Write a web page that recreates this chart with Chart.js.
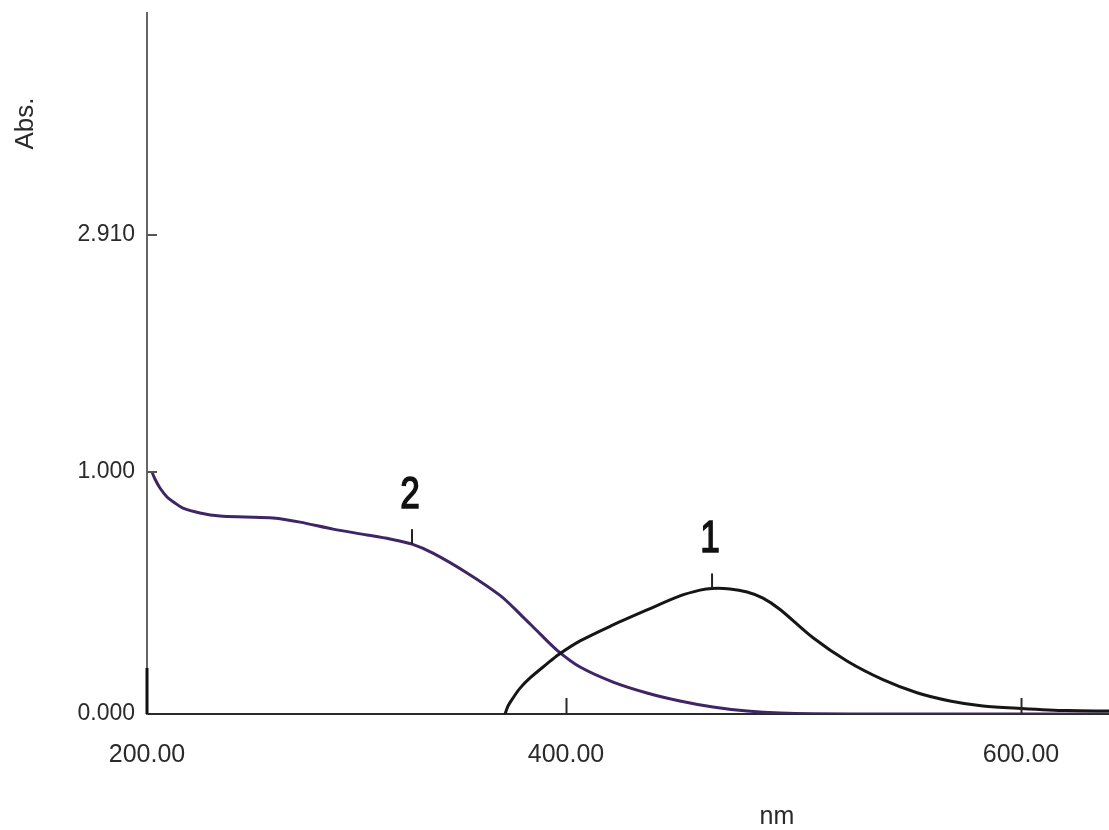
<!DOCTYPE html>
<html>
<head>
<meta charset="utf-8">
<title>Abs. spectrum</title>
<script src="https://cdn.jsdelivr.net/npm/chart.js@4.4.1/dist/chart.umd.min.js"></script>
<style>
  html, body { margin: 0; padding: 0; background: #fff; }
  canvas { display: block; }
</style>
</head>
<body>
<canvas id="spectrum" width="1109" height="830"></canvas>
<script>
// Curve 1 (black), wavelength in nm and absorbance
const curve1Nm  = [373.2, 374.5, 376.7, 379.8, 384.2, 391.6, 396.5, 406.2, 420.7, 435.6, 450.1, 458.9, 464.2, 472.1, 479.6, 486.6, 494.1, 508.6, 523.5, 539.3, 554.3, 568.8, 583.3, 600.0, 620.2, 638.7];
const curve1Abs = [0.000, 0.033, 0.066, 0.107, 0.149, 0.207, 0.244, 0.302, 0.368, 0.430, 0.488, 0.512, 0.519, 0.517, 0.504, 0.479, 0.432, 0.315, 0.219, 0.142, 0.088, 0.054, 0.033, 0.023, 0.014, 0.012];

// Curve 2 (purple)
const curve2Nm  = [218.0, 219.3, 221.5, 224.6, 228.1, 231.6, 239.1, 247.9, 258.9, 271.2, 283.1, 297.6, 312.5, 322.6, 332.3, 341.5, 356.5, 371.0, 379.8, 388.6, 396.5, 406.2, 420.7, 435.6, 450.1, 464.6, 479.6, 494.1, 524.8, 638.7];
const curve2Abs = [1.000, 0.971, 0.934, 0.897, 0.872, 0.851, 0.831, 0.818, 0.814, 0.810, 0.793, 0.764, 0.740, 0.723, 0.702, 0.665, 0.583, 0.490, 0.413, 0.331, 0.260, 0.194, 0.132, 0.087, 0.054, 0.029, 0.012, 0.004, 0.000, 0.000];

// Axis ticks (the printout's labels are not evenly spaced)
const xTickValues = [215.8, 400, 600];
const xTickLabels = ["200.00", "400.00", "600.00"];
const yTickValues = [0, 1, 1.98];
const yTickLabels = ["0.000", "1.000", "2.910"];

// Peak markers: label, which curve, wavelength
const markerLabels = ["2", "1"];
const markerCurves = [2, 1];
const markerNm = [332.3, 464.2];

const X_MIN = 215.8, X_MAX = 638.7;
const Y_MIN = 0, Y_MAX = 2.897;

const FONT = "'Liberation Sans', Arial, sans-serif";
const PURPLE = "#3f2566";
const BLACK = "#161616";
const TEXT = "#2a2a2a";

function zip(xs, ys) {
  return xs.map((x, i) => ({ x: x, y: ys[i] }));
}

// Draws the inward ticks, the peak markers and the axis names.
const spectrumDecor = {
  id: 'spectrumDecor',
  afterDatasetsDraw: function (chart) {
    const ctx = chart.ctx;
    const xs = chart.scales.x;
    const ys = chart.scales.y;
    const area = chart.chartArea;
    ctx.save();

    // inward x ticks
    ctx.strokeStyle = "#2a2a2a";
    ctx.lineWidth = 2;
    xTickValues.slice(1).forEach(v => {
      const px = Math.round(xs.getPixelForValue(v)) + 0.5;
      ctx.beginPath();
      ctx.moveTo(px, area.bottom + 1);
      ctx.lineTo(px, area.bottom - 16);
      ctx.stroke();
    });

    // inward y ticks
    ctx.strokeStyle = "#555";
    yTickValues.slice(1).forEach(v => {
      const py = Math.round(ys.getPixelForValue(v));
      ctx.beginPath();
      ctx.moveTo(area.left, py);
      ctx.lineTo(area.left + 10, py);
      ctx.stroke();
    });

    // darker stub at the bottom of the y axis
    ctx.strokeStyle = "#111";
    ctx.lineWidth = 3;
    ctx.beginPath();
    ctx.moveTo(area.left, area.bottom);
    ctx.lineTo(area.left, ys.getPixelForValue(0.19));
    ctx.stroke();

    // peak markers
    markerLabels.forEach((label, i) => {
      const nmArr = markerCurves[i] === 1 ? curve1Nm : curve2Nm;
      const absArr = markerCurves[i] === 1 ? curve1Abs : curve2Abs;
      const idx = nmArr.indexOf(markerNm[i]);
      const px = xs.getPixelForValue(markerNm[i]);
      const py = ys.getPixelForValue(absArr[idx]);
      ctx.strokeStyle = "#222";
      ctx.lineWidth = 2;
      ctx.beginPath();
      ctx.moveTo(px, py);
      ctx.lineTo(px, py - 15);
      ctx.stroke();
      // the printout's digits are tall, narrow and heavy
      ctx.save();
      ctx.translate(px - 2, py - 36);
      ctx.scale(0.8, 1);
      ctx.fillStyle = "#111";
      ctx.strokeStyle = "#111";
      ctx.lineWidth = 1.6;
      ctx.font = "44px " + FONT;
      ctx.textAlign = "center";
      ctx.textBaseline = "alphabetic";
      ctx.fillText(label, 0, 0);
      ctx.strokeText(label, 0, 0);
      ctx.restore();
    });

    // axis names
    ctx.fillStyle = TEXT;
    ctx.font = "25px " + FONT;
    ctx.textAlign = "center";
    ctx.textBaseline = "middle";
    ctx.fillText("nm", xs.getPixelForValue(492.7), chart.height - 13);

    ctx.translate(26, ys.getPixelForValue(2.44));
    ctx.rotate(-Math.PI / 2);
    ctx.font = "26px " + FONT;
    ctx.fillText("Abs.", 0, 0);
    ctx.restore();
  }
};

const chart = new Chart(document.getElementById("spectrum"), {
  type: 'line',
  data: {
    datasets: [
      {
        label: "1",
        data: zip(curve1Nm, curve1Abs),
        borderColor: BLACK,
        borderWidth: 3,
        pointRadius: 0,
        tension: 0.3,
        fill: false
      },
      {
        label: "2",
        data: zip(curve2Nm, curve2Abs),
        borderColor: PURPLE,
        borderWidth: 3,
        pointRadius: 0,
        tension: 0.3,
        fill: false
      }
    ]
  },
  options: {
    responsive: false,
    animation: false,
    layout: { padding: { top: 13, right: 0, left: 0, bottom: 0 } },
    plugins: {
      legend: { display: false },
      tooltip: { enabled: false }
    },
    scales: {
      x: {
        type: 'linear',
        min: X_MIN,
        max: X_MAX,
        grid: { display: false, drawTicks: false },
        border: { display: true, color: "#2a2a2a", width: 2 },
        afterBuildTicks: scale => {
          scale.ticks = xTickValues.map(v => ({ value: v }));
        },
        afterFit: scale => {
          scale.height = 116;
          scale.paddingLeft = 0;
          scale.paddingRight = 0;
        },
        ticks: {
          autoSkip: false,
          maxRotation: 0,
          padding: 26,
          color: TEXT,
          font: { family: FONT, size: 25 },
          callback: (value, index) => xTickLabels[index]
        }
      },
      y: {
        type: 'linear',
        min: Y_MIN,
        max: Y_MAX,
        grid: { display: false, drawTicks: false },
        border: { display: true, color: "#666", width: 2 },
        afterBuildTicks: scale => {
          scale.ticks = yTickValues.map(v => ({ value: v }));
        },
        afterFit: scale => {
          scale.width = 147;
          scale.paddingTop = 0;
          scale.paddingBottom = 0;
        },
        ticks: {
          autoSkip: false,
          padding: 12,
          color: TEXT,
          font: { family: FONT, size: 23 },
          callback: (value, index) => yTickLabels[index]
        }
      }
    }
  },
  plugins: [spectrumDecor]
});
</script>
</body>
</html>
